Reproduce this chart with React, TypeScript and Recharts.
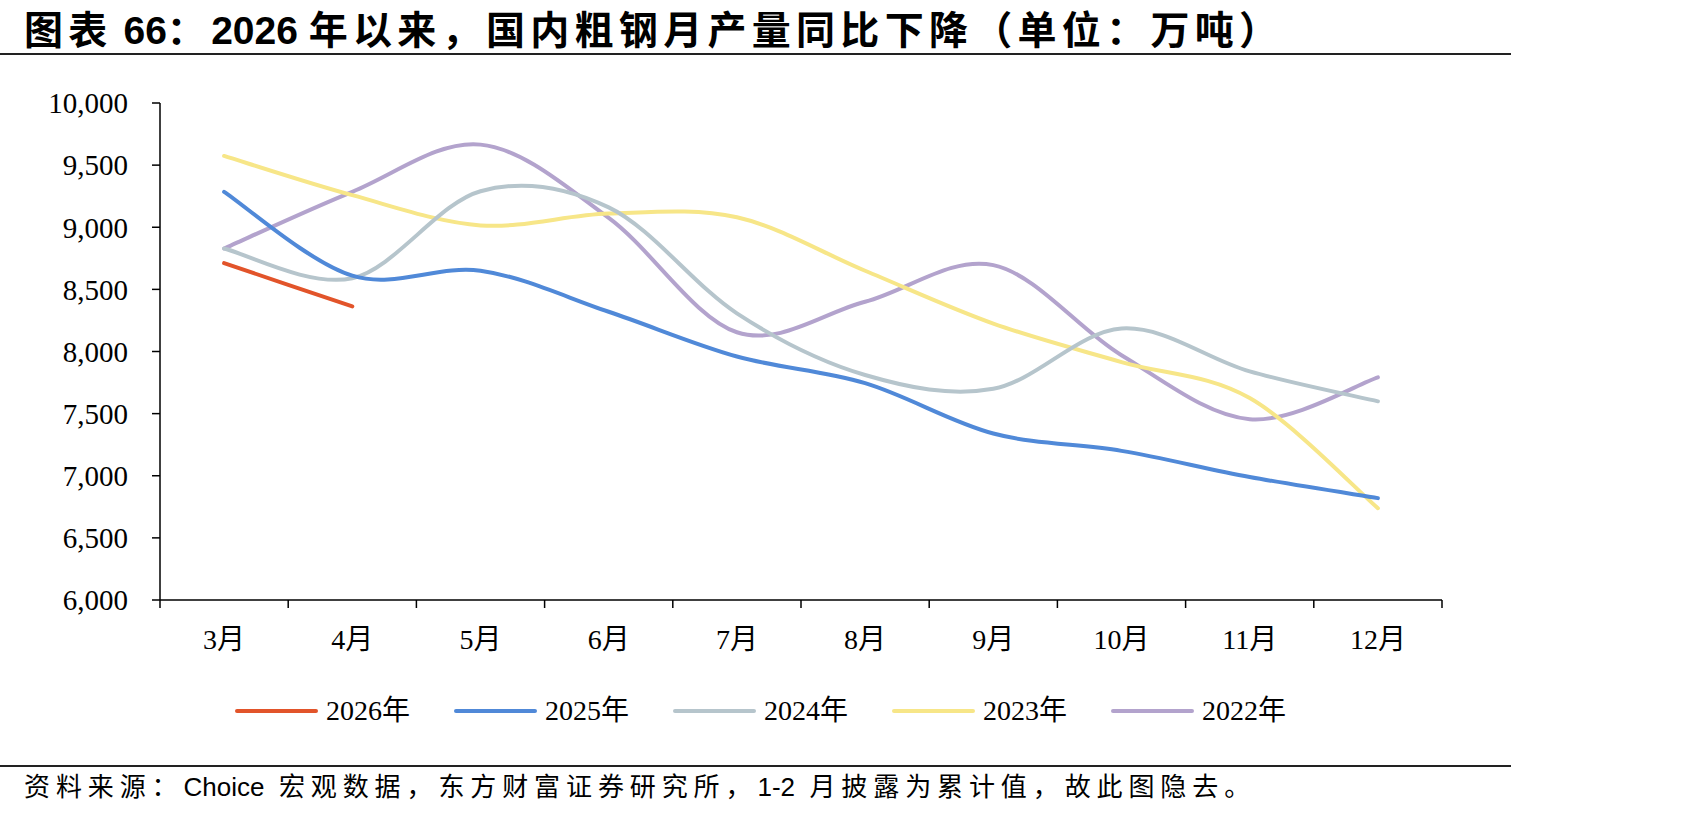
import React from "react";
import { LineChart, Line, XAxis, YAxis, Legend } from "recharts";

const months = ["3月", "4月", "5月", "6月", "7月", "8月", "9月", "10月", "11月", "12月"];

// 万吨，读图估计
const y2026 = [8711, 8363, null, null, null, null, null, null, null, null];
const y2025 = [9285, 8610, 8650, 8320, 7960, 7745, 7340, 7200, 6990, 6820];
const y2024 = [8829, 8590, 9290, 9160, 8307, 7811, 7700, 8185, 7840, 7599];
const y2023 = [9574, 9258, 9015, 9110, 9080, 8650, 8225, 7915, 7625, 6739];
const y2022 = [8829, 9285, 9665, 9075, 8155, 8400, 8695, 7970, 7455, 7792];

const yTicks = [6000, 6500, 7000, 7500, 8000, 8500, 9000, 9500, 10000];

const series = [
  { key: "y2026", name: "2026年", color: "#E2542A", values: y2026 },
  { key: "y2025", name: "2025年", color: "#5089D8", values: y2025 },
  { key: "y2024", name: "2024年", color: "#B6C5CC", values: y2024 },
  { key: "y2023", name: "2023年", color: "#F7E688", values: y2023 },
  { key: "y2022", name: "2022年", color: "#B3A3CD", values: y2022 },
];

const data = months.map((m, i) => {
  const row: Record<string, number | string | null> = { month: m, pos: i + 0.5 };
  series.forEach((s) => (row[s.key] = s.values[i]));
  return row;
});

// 类别边界刻度(整数) + 类别中心标签(.5)
const xTicks = months.flatMap((_, i) => [i, i + 0.5]).concat(months.length);

const SERIF = "'Liberation Serif', 'Times New Roman', 'Noto Sans CJK SC', serif";
const SANS = "'Liberation Sans', 'Noto Sans CJK SC', sans-serif";

/** Excel 平滑线（Catmull-Rom） */
function excelSmooth(context: any) {
  let pts: [number, number][] = [];
  return {
    areaStart() {},
    areaEnd() {},
    lineStart() {
      pts = [];
    },
    point(x: number, y: number) {
      pts.push([+x, +y]);
    },
    lineEnd() {
      if (!pts.length) return;
      context.moveTo(pts[0][0], pts[0][1]);
      for (let i = 0; i < pts.length - 1; i++) {
        const p0 = pts[i - 1] || pts[i];
        const p1 = pts[i];
        const p2 = pts[i + 1];
        const p3 = pts[i + 2] || p2;
        context.bezierCurveTo(
          p1[0] + (p2[0] - p0[0]) / 6,
          p1[1] + (p2[1] - p0[1]) / 6,
          p2[0] - (p3[0] - p1[0]) / 6,
          p2[1] - (p3[1] - p1[1]) / 6,
          p2[0],
          p2[1]
        );
      }
    },
  };
}

function MonthTick({ x, y, payload }: any) {
  const v = payload.value as number;
  if (Number.isInteger(v)) {
    return <line x1={x} x2={x} y1={y} y2={y + 8} stroke="#000" strokeWidth={1.5} />;
  }
  return (
    <text
      x={x}
      y={y + 39}
      textAnchor="middle"
      dominantBaseline="central"
      fontSize={28}
      fontFamily={SERIF}
      fill="#000"
    >
      {months[Math.floor(v)]}
    </text>
  );
}

function LegendRow() {
  return (
    <div style={{ display: "flex", fontFamily: SERIF, fontSize: 28, color: "#000" }}>
      {series.map((s) => (
        <div key={s.key} style={{ display: "flex", alignItems: "center", width: 219 }}>
          <div style={{ width: 83, height: 4, borderRadius: 2, background: s.color, marginRight: 8 }} />
          <span style={{ lineHeight: "36px" }}>{s.name}</span>
        </div>
      ))}
    </div>
  );
}

const tight = { letterSpacing: 0 };

export default function App() {
  return (
    <div
      style={{
        position: "absolute",
        left: 0,
        top: 0,
        width: 1701,
        height: 819,
        background: "#fff",
        overflow: "hidden",
      }}
    >
      <div
        style={{
          position: "absolute",
          left: 24,
          top: 9,
          fontFamily: SANS,
          fontWeight: 700,
          fontSize: 39,
          letterSpacing: 5.3,
          lineHeight: "44px",
          whiteSpace: "nowrap",
          color: "#000",
        }}
      >
        图表<span style={tight}> 66</span>：<span style={tight}>2026 </span>年以来，国内粗钢月产量同比下降（单位：万吨）
      </div>
      <div style={{ position: "absolute", left: 0, top: 53, width: 1511, height: 2, background: "#222" }} />

      <LineChart
        width={1701}
        height={819}
        data={data}
        margin={{ top: 103, right: 259, bottom: 189, left: 60 }}
      >
        <XAxis
          dataKey="pos"
          type="number"
          domain={[0, months.length]}
          ticks={xTicks}
          interval={0}
          tick={<MonthTick />}
          tickLine={false}
          tickSize={0}
          tickMargin={0}
          height={30}
          axisLine={{ stroke: "#000", strokeWidth: 1.5 }}
        />
        <YAxis
          type="number"
          domain={[6000, 10000]}
          ticks={yTicks}
          interval={0}
          width={100}
          tickSize={8}
          tickMargin={24}
          tickFormatter={(v: number) => v.toLocaleString("en-US")}
          tick={{ fill: "#000", fontSize: 29, fontFamily: SERIF }}
          tickLine={{ stroke: "#000", strokeWidth: 1.5 }}
          axisLine={{ stroke: "#000", strokeWidth: 1.5 }}
        />
        <Legend
          layout="horizontal"
          verticalAlign="middle"
          align="center"
          wrapperStyle={{ left: 235, top: 693, width: 1100, height: 36 }}
          content={() => <LegendRow />}
        />
        {[...series].reverse().map((s) => (
          <Line
            key={s.key}
            dataKey={s.key}
            name={s.name}
            type={excelSmooth as any}
            stroke={s.color}
            strokeWidth={4}
            dot={false}
            activeDot={false}
            strokeLinecap="round"
            isAnimationActive={false}
          />
        ))}
      </LineChart>

      <div style={{ position: "absolute", left: 0, top: 765, width: 1511, height: 2, background: "#222" }} />
      <div
        style={{
          position: "absolute",
          left: 24,
          top: 771,
          fontFamily: SANS,
          fontSize: 26,
          letterSpacing: 5.9,
          lineHeight: "32px",
          whiteSpace: "nowrap",
          color: "#000",
        }}
      >
        资料来源：<span style={tight}>Choice&nbsp;&nbsp;</span>宏观数据，东方财富证券研究所，<span style={tight}>1-2&nbsp;&nbsp;</span>月披露为累计值，故此图隐去。
      </div>
    </div>
  );
}
